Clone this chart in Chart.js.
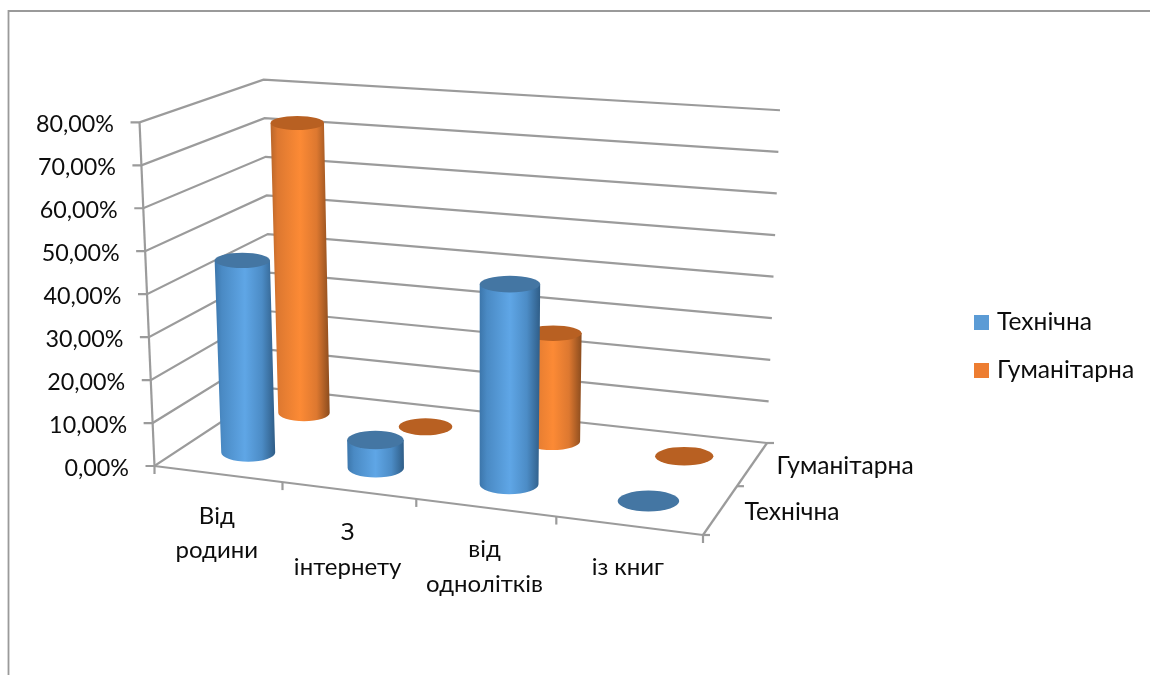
<!DOCTYPE html>
<html lang="uk">
<head>
<meta charset="utf-8">
<title>Джерела інформації</title>
<script src="https://cdn.jsdelivr.net/npm/chart.js@4/dist/chart.umd.js"></script>
<style>
  html, body { margin: 0; padding: 0; background: #fff; }
  canvas { display: block; }
</style>
</head>
<body>
<canvas id="chart" width="1150" height="675"></canvas>
<script>
// Chart values (per cent of respondents)
const categories = [['Від', 'родини'], ['З', 'інтернету'], ['від', 'однолітків'], ['із книг']];
const seriesNames = ['Технічна', 'Гуманітарна'];
const technical = [45.5, 6.5, 45.5, 0];
const humanities = [72.5, 0, 26, 0];
const valueTicks = { min: 0, max: 80, step: 10 };
const seriesColours = ['#5b9bd5', '#ed7d31'];

const FONT = 'Lato, Carlito, sans-serif';
const TEXT = '#0d0d0d';
const LINE = '#9b9b9b';

// Perspective box: the floor quad, wall heights and the vanishing point of the verticals
const box = {
  fl: [154.5, 466], fr: [703, 535], br: [767, 443], bl: [272, 388.5],
  hFL: 344, hBL: 309, hBR: 333, vp: [477, 7870]
};
const rowDepth = [0.25, 0.75];   // depth of each series row on the floor
const radiusU = 0.054, radiusW = 0.11;

// Unit square -> floor quad homography
const floor = (() => {
  const [x0, y0] = box.fl, [x1, y1] = box.fr, [x2, y2] = box.br, [x3, y3] = box.bl;
  const dx1 = x1 - x2, dx2 = x3 - x2, sx = x0 - x1 + x2 - x3;
  const dy1 = y1 - y2, dy2 = y3 - y2, sy = y0 - y1 + y2 - y3;
  const den = dx1 * dy2 - dx2 * dy1;
  const g = (sx * dy2 - dx2 * sy) / den, h = (dx1 * sy - sx * dy1) / den;
  return (u, w) => {
    const d = g * u + h * w + 1;
    return [
      ((x1 - x0 + g * x1) * u + (x3 - x0 + h * x3) * w + x0) / d,
      ((y1 - y0 + g * y1) * u + (y3 - y0 + h * y3) * w + y0) / d
    ];
  };
})();

// u: along categories, w: into the depth, v: share of the full value axis
function project(u, w, v) {
  const [fx, fy] = floor(u, w);
  const inv = 1 / box.hFL + (1 / box.hBR - 1 / box.hBL) * u + (1 / box.hBL - 1 / box.hFL) * w;
  const ax = fx - box.vp[0], ay = fy - box.vp[1], n = Math.hypot(ax, ay);
  const len = v / inv;
  return [fx + len * ax / n, fy + len * ay / n];
}

function line(ctx, a, b) {
  ctx.beginPath();
  ctx.moveTo(a[0], a[1]);
  ctx.lineTo(b[0], b[1]);
  ctx.stroke();
}

// Level ellipse of a cylinder end; tall cylinders keep a little more visible cap
function capEllipse(u, w, v) {
  const [cx, cy] = project(u, w, v);
  const rw = radiusW * (1 + 0.6 * v * v * v);
  return {
    cx, cy,
    rx: (project(u + radiusU, w, v)[0] - project(u - radiusU, w, v)[0]) / 2,
    ry: Math.abs(project(u, w - rw, v)[1] - project(u, w + rw, v)[1]) / 2
  };
}

function drawCylinder(ctx, u, w, v, style) {
  const head = capEllipse(u, w, v);
  if (v > 0) {
    const foot = capEllipse(u, w, 0);
    const left = Math.min(foot.cx - foot.rx, head.cx - head.rx);
    const right = Math.max(foot.cx + foot.rx, head.cx + head.rx);
    const shade = ctx.createLinearGradient(left, 0, right, 0);
    style.body.forEach(([at, colour]) => shade.addColorStop(at, colour));
    ctx.beginPath();
    ctx.ellipse(foot.cx, foot.cy, foot.rx, foot.ry, 0, Math.PI, 0, true);
    ctx.lineTo(head.cx + head.rx, head.cy);
    ctx.lineTo(head.cx - head.rx, head.cy);
    ctx.closePath();
    ctx.fillStyle = shade;
    ctx.fill();
  }
  ctx.beginPath();
  ctx.ellipse(head.cx, head.cy, head.rx, head.ry, 0, 0, Math.PI * 2);
  ctx.fillStyle = style.top;
  ctx.fill();
}

const styles = [
  { top: '#4476a3', body: [[0, '#3c76ab'], [0.12, '#4a8ac4'], [0.5, '#5fa6e6'], [0.78, '#4c8cc6'], [1, '#2f5d87']] },
  { top: '#b86022', body: [[0, '#b9662a'], [0.12, '#dd7830'], [0.5, '#fc8a35'], [0.78, '#dd7830'], [1, '#8b4c1e']] }
];

// Bar controller whose bars are drawn as cylinders standing on the floor
class CylinderController extends Chart.BarController {
  static id = 'cylinder';
  static defaults = { ...Chart.BarController.defaults };
  static overrides = Chart.BarController.overrides;
  draw() {
    const { chart, index } = this;
    const area = chart.chartArea;
    this._cachedMeta.data.forEach(bar => {
      const u = (bar.x - area.left) / area.width;
      const v = (bar.base - bar.y) / area.height;
      drawCylinder(chart.ctx, u, rowDepth[index], v, styles[index]);
    });
  }
}
Chart.register(CylinderController);

const boxFrame = {
  id: 'boxFrame',
  beforeDraw(chart) {
    const ctx = chart.ctx;
    ctx.save();
    ctx.fillStyle = '#fff';
    ctx.fillRect(0, 0, chart.width, chart.height);
    ctx.strokeStyle = '#9a9a9a';
    ctx.lineWidth = 1.8;
    ctx.beginPath();
    ctx.moveTo(8.5, 675);
    ctx.lineTo(8.5, 11);
    ctx.lineTo(1150, 11);
    ctx.stroke();
    ctx.restore();
  },
  beforeDatasetsDraw(chart) {
    const ctx = chart.ctx;
    const yScale = chart.scales.y;
    ctx.save();
    ctx.strokeStyle = LINE;
    ctx.lineWidth = 2.2;
    // value grid on the left and back walls, with ticks on the value axis
    yScale.ticks.forEach(t => {
      const v = (yScale.bottom - yScale.getPixelForValue(t.value)) / yScale.height;
      const a = project(0, 0, v), b = project(0, 1, v), c = project(1, 1, v);
      ctx.beginPath();
      ctx.moveTo(a[0] - 9, a[1]);
      ctx.lineTo(a[0], a[1]);
      ctx.lineTo(b[0], b[1]);
      ctx.lineTo(c[0], c[1]);
      ctx.stroke();
    });
    // value axis and floor edges
    line(ctx, project(0, 0, 0), project(0, 0, 1));
    line(ctx, project(0, 0, 0), project(1, 0, 0));
    line(ctx, project(1, 0, 0), project(1, 1, 0));
    // category ticks under the front edge
    categories.concat([null]).forEach((_, i) => {
      const p = project(i / categories.length, 0, 0);
      line(ctx, p, [p[0], p[1] + 8]);
    });
    // series ticks beside the right floor edge
    [0, 0.5, 1].forEach(w => {
      const p = project(1, w, 0);
      line(ctx, p, [p[0] + 7, p[1]]);
    });
    ctx.restore();
  },
  afterDraw(chart) {
    const ctx = chart.ctx;
    const yScale = chart.scales.y;
    ctx.save();
    ctx.fillStyle = TEXT;
    ctx.textBaseline = 'middle';
    // value labels follow the leaning axis
    ctx.font = '23.3px ' + FONT;
    ctx.textAlign = 'right';
    yScale.ticks.forEach(t => {
      const v = (yScale.bottom - yScale.getPixelForValue(t.value)) / yScale.height;
      const p = project(0, 0, v);
      ctx.fillText(t.label, p[0] - 25.5, p[1] + 2);
    });
    ctx.font = '24px ' + FONT;
    // category names below the front edge
    ctx.textAlign = 'center';
    categories.forEach((lines, i) => {
      const p = project((i + 0.5) / categories.length, 0, 0);
      lines.forEach((txt, k) => ctx.fillText(txt, p[0] - 1, p[1] + 42 + k * 34.5));
    });
    ctx.font = '24.6px ' + FONT;
    // series names beside the right floor edge
    ctx.textAlign = 'left';
    seriesNames.forEach((name, i) => {
      const p = project(1, rowDepth[i], 0);
      ctx.fillText(name, p[0] + 24, p[1] + 2);
    });
    // legend
    seriesNames.forEach((name, i) => {
      const rowY = 322.5 + i * 48;
      ctx.fillStyle = seriesColours[i];
      ctx.fillRect(974, rowY - 7.5, 15, 15);
      ctx.fillStyle = TEXT;
      ctx.fillText(name, 997, rowY);
    });
    ctx.restore();
  }
};

new Chart(document.getElementById('chart'), {
  type: 'cylinder',
  data: {
    labels: categories.map(c => c.join(' ')),
    datasets: [
      { label: seriesNames[0], data: technical, backgroundColor: seriesColours[0], grouped: false, clip: false },
      { label: seriesNames[1], data: humanities, backgroundColor: seriesColours[1], grouped: false, clip: false }
    ]
  },
  plugins: [boxFrame],
  options: {
    responsive: false,
    animation: false,
    layout: { padding: { top: 122, bottom: 209, left: 0, right: 0 } },
    scales: {
      x: { type: 'category', display: false, offset: true },
      y: {
        min: valueTicks.min,
        max: valueTicks.max,
        ticks: {
          display: false,
          stepSize: valueTicks.step,
          callback: v => v.toFixed(2).replace('.', ',') + '%'
        },
        grid: { display: false, drawTicks: false },
        border: { display: false },
        afterFit(scale) { scale.width = 139; }
      }
    },
    plugins: {
      tooltip: { enabled: false },
      title: { display: false },
      legend: { display: false }
    }
  }
});
</script>
</body>
</html>
